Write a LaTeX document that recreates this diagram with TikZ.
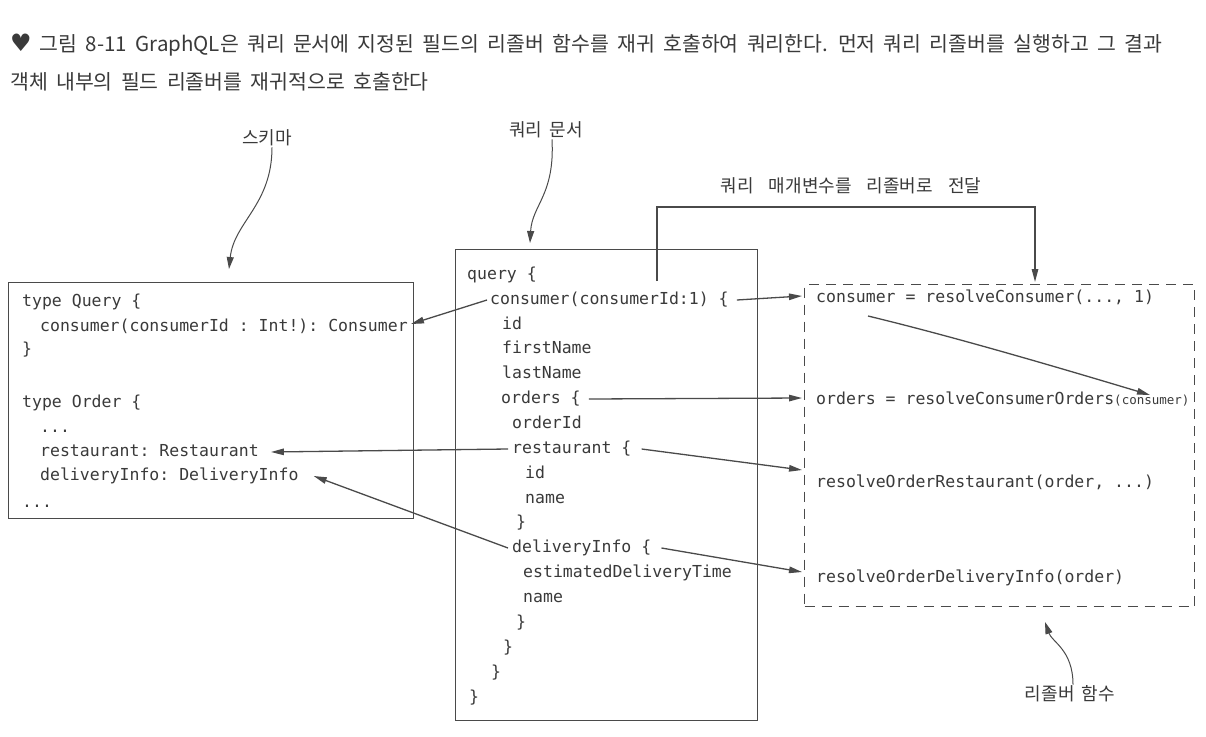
\documentclass[tikz,border=0pt]{standalone}
\usepackage{fontspec}
\setmonofont{DejaVu Sans Mono}
\newfontfamily\kr{Noto Sans CJK KR}
\newfontfamily\krt[WordSpace=1.8]{Noto Sans CJK KR}
\newfontfamily\sym{DejaVu Sans}
\usetikzlibrary{arrows.meta}
\definecolor{ink}{HTML}{3A3A3A}
\definecolor{ln}{HTML}{4A4A4A}
\begin{document}
\begin{tikzpicture}[x=1pt,y=-1pt,
  code/.style={anchor=west,inner sep=0pt,font=\ttfamily\fontsize{16.5}{16.5}\selectfont,text=ink,text height=11pt,text depth=3pt},
  lbl/.style={font=\kr\fontsize{18}{18}\selectfont,text=ink,inner sep=1pt},
  ttl/.style={anchor=west,inner sep=0pt,font=\krt\fontsize{20.5}{20.5}\selectfont,text=ink},
  arr/.style={draw=ln,line width=1.3pt,-{Triangle[length=13pt,width=6.5pt]}},
  note/.style={draw=ln,line width=1pt,-{Triangle[length=12pt,width=7pt]}},
  box/.style={draw=ln,line width=1.4pt,inner sep=0pt,anchor=north west}
]
\useasboundingbox[fill=white] (0,0) rectangle (1206,736);

% title
\node[ttl] (t1) at (10,45) {{\sym\fontsize{24}{24}\selectfont ♥} 그림 8-11 GraphQL은 쿼리 문서에 지정된 필드의 리졸버 함수를 재귀 호출하여 쿼리한다. 먼저 쿼리 리졸버를 실행하고 그 결과};
\node[ttl] (t2) at (10,82) {객체 내부의 필드 리졸버를 재귀적으로 호출한다};

% boxes
\node[box,minimum width=405pt,minimum height=236pt] (sbox) at (8,282) {};
\node[box,minimum width=302pt,minimum height=471pt] (qbox) at (455,249) {};
\node[box,dash pattern=on 10pt off 7pt,minimum width=390pt,minimum height=322pt] (rbox) at (804,284) {};

% schema
\node[code] (s0) at (22,302) {type Query \{};
\node[code] (s1) at (40,327) {consumer(consumerId : Int!): Consumer};
\node[code] (s2) at (22,350) {\}};
\node[code] (s3) at (22,403) {type Order \{};
\node[code] (s4) at (40,428) {...};
\node[code] (s5) at (40,452) {restaurant: Restaurant};
\node[code] (s6) at (40,476) {deliveryInfo: DeliveryInfo};
\node[code] (s7) at (22,503) {...};

% query
\node[code] (q0) at (467,275) {query \{};
\node[code] (q1) at (490,300) {consumer(consumerId:1) \{};
\node[code] (q2) at (502,325) {id};
\node[code] (q3) at (502,349) {firstName};
\node[code] (q4) at (502,374) {lastName};
\node[code] (q5) at (501,399) {orders \{};
\node[code] (q6) at (512,424) {orderId};
\node[code] (q7) at (512,449) {restaurant \{};
\node[code] (q8) at (525,474) {id};
\node[code] (q9) at (525,499) {name};
\node[code] (q10) at (516,523) {\}};
\node[code] (q11) at (512,548) {deliveryInfo \{};
\node[code] (q12) at (523,573) {estimatedDeliveryTime};
\node[code] (q13) at (523,598) {name};
\node[code] (q14) at (516,623) {\}};
\node[code] (q15) at (503,648) {\}};
\node[code] (q16) at (491,673) {\}};
\node[code] (q17) at (469,698) {\}};

% resolvers
\node[code] (r1) at (816,298) {consumer = resolveConsumer(..., 1)};
\node[code] (r2) at (816,400) {orders = resolveConsumerOrders{\fontsize{12.5}{12.5}\selectfont(consumer)}};
\node[code] (r3) at (816,483) {resolveOrderRestaurant(order, ...)};
\node[code] (r4) at (816,578) {resolveOrderDeliveryInfo(order)};

% query -> schema
\draw[arr] ([xshift=-3pt]q1.west) -- ([xshift=3pt,yshift=3pt]s1.east);
\draw[arr] ([xshift=-4pt]q7.west) -- ([xshift=12pt]s5.east);
\draw[arr] ([xshift=-4pt]q11.west) -- ([xshift=15pt]s6.east);

% query -> resolvers
\coordinate (e1) at (802,296);
\coordinate (e2) at (802,398);
\coordinate (e3) at (802,470);
\coordinate (e4) at (802,572);
\draw[arr] ([xshift=8pt]q1.east) -- (e1);
\draw[arr] ([xshift=8pt]q5.east) -- (e2);
\draw[arr] ([xshift=10pt]q7.east) -- (e3);
\draw[arr] ([xshift=10pt]q11.east) -- (e4);

% consumer -> resolveConsumerOrders
\coordinate (c8a) at (868,316);
\coordinate (c8b) at (1150,395);
\draw[arr] (c8a) .. controls (955,337) and (1060,368) .. (c8b);

% parameters bracket
\coordinate (b0) at (657,281);
\coordinate (bm) at (850,207);
\coordinate (b1) at (1035,282);
\draw[arr] (b0) |- (bm) -| (b1);
\node[lbl] (lpass) at (851,186) {쿼리\hspace{15pt}매개변수를\hspace{15pt}리졸버로\hspace{15pt}전달};

% annotations
\node[lbl] (lsch) at (267,138) {스키마};
\coordinate (sa) at (229,269);
\draw[note] ([xshift=5pt]lsch.south) .. controls (272,205) and (234,222) .. (sa);
\node[lbl] (lqd) at (546,130) {쿼리 문서};
\coordinate (qa) at (530,243);
\draw[note] ([xshift=6pt]lqd.south) .. controls (555,195) and (532,205) .. (qa);
\node[lbl] (lres) at (1070,694) {리졸버 함수};
\coordinate (ra) at (1045,622);
\draw[note] ([xshift=3pt]lres.north) .. controls (1073,650) and (1052,642) .. (ra);
\end{tikzpicture}
\end{document}
